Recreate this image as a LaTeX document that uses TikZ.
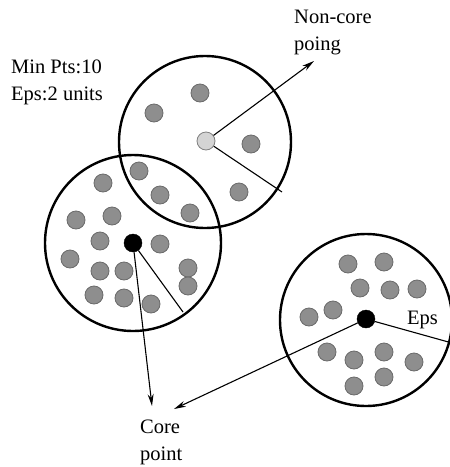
\documentclass[tikz,border=0pt]{standalone}
\usepackage{fontspec}
\setmainfont{Liberation Serif}
\newfontfamily\tnr{Liberation Serif}
\usetikzlibrary{arrows.meta}
\definecolor{dotfill}{HTML}{8E8E8E}
\definecolor{dotline}{HTML}{6A6A6A}
\definecolor{lightfill}{HTML}{D4D4D4}
\begin{document}
\begin{tikzpicture}[x=1pt,y=-1pt,
  region/.style={draw=black,line width=2.4pt},
  pt/.style={circle,fill=dotfill,draw=dotline,line width=0.8pt,minimum size=18pt,inner sep=0pt},
  corept/.style={circle,fill=black,draw=black,minimum size=18pt,inner sep=0pt},
  noncore/.style={circle,fill=lightfill,draw=gray,line width=0.8pt,minimum size=18pt,inner sep=0pt},
  link/.style={draw=black,line width=1.1pt},
  arr/.style={link,-{Stealth[length=12pt,width=6pt]}},
  lab/.style={font=\tnr\fontsize{20.5}{24}\selectfont,inner sep=0pt,anchor=base west}]
\useasboundingbox (0,0) rectangle (450,467);
% regions
\draw[region] (205,142) circle[radius=86pt];
\draw[region] (133,243) circle[radius=88pt];
\draw[region] (366,320) circle[radius=86pt];
% top circle points
\node[noncore] (nc) at (206,141) {};
\node[pt] at (200,93) {};
\node[pt] at (154,113) {};
\node[pt] at (251,144) {};
\node[pt] at (239,192) {};
% left circle points
\node[pt] at (103,183) {};
\node[pt] at (139,171) {};
\node[pt] at (160,195) {};
\node[pt] at (190,213) {};
\node[pt] at (76,220) {};
\node[pt] at (112,216) {};
\node[pt] at (100,241) {};
\node[pt] at (160,244) {};
\node[pt] at (70,259) {};
\node[pt] at (100,271) {};
\node[pt] at (124,271) {};
\node[pt] at (188,268) {};
\node[pt] at (188,286) {};
\node[pt] at (94,295) {};
\node[pt] at (124,298) {};
\node[pt] at (151,304) {};
\node[corept] (c1) at (133,243) {};
% right circle points
\node[pt] at (348,264) {};
\node[pt] at (384,262) {};
\node[pt] at (360,288) {};
\node[pt] at (390,290) {};
\node[pt] at (417,289) {};
\node[pt] at (309,317) {};
\node[pt] at (333,310) {};
\node[pt] at (327,352) {};
\node[pt] at (354,360) {};
\node[pt] at (384,352) {};
\node[pt] at (414,362) {};
\node[pt] at (384,377) {};
\node[pt] at (354,386) {};
\node[corept] (c2) at (366,319) {};
% radius end points
\coordinate (e1) at (282,192);
\coordinate (e2) at (183,312);
\coordinate (e3) at (452,343);
\coordinate (a1) at (314,61);
\coordinate (a2) at (152,406);
\coordinate (a3) at (174,409);
% labels
\node[lab] at (11,73) {Min Pts:10};
\node[lab] at (11,100) {Eps:2 units};
\node[lab] (ncl) at (294,23) {Non-core};
\node[lab] at (294,50) {poing};
\node[lab] (cpl) at (140,433) {Core};
\node[lab] at (140,460) {point};
\node[lab] (eps) at (407,324) {Eps};
% connectors
\draw[link] (nc) -- (e1);
\draw[arr] (nc) -- (a1);
\draw[link] (c1) -- (e2);
\draw[arr] (c1) -- (a2);
\draw[link] (c2) -- (e3);
\draw[arr] (c2) -- (a3);
\end{tikzpicture}
\end{document}
